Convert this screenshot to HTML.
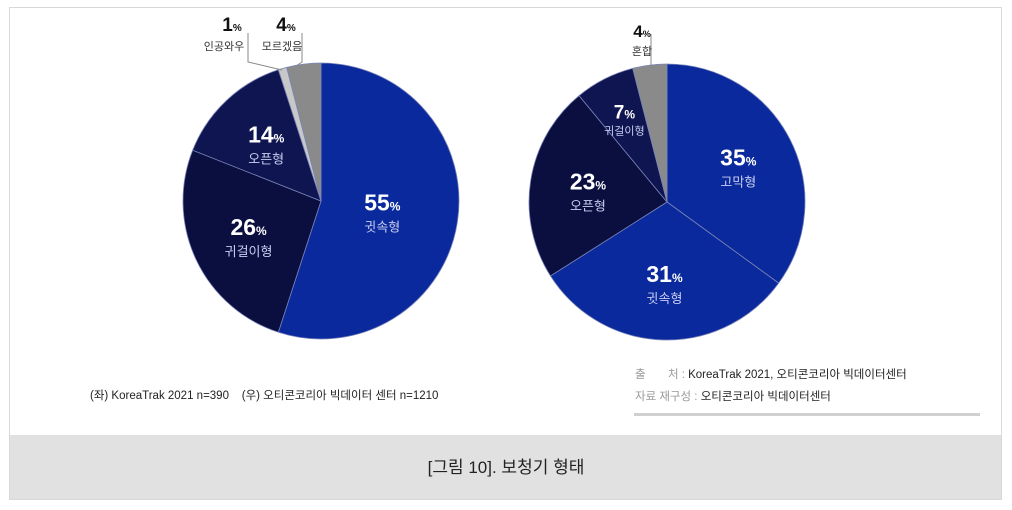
<!DOCTYPE html>
<html><head><meta charset="utf-8"><style>
body{margin:0;background:#fff;}
svg{display:block;font-family:"Liberation Sans","Noto Sans CJK KR",sans-serif;}
</style></head><body>
<svg width="1012" height="510" viewBox="0 0 1012 510" xmlns="http://www.w3.org/2000/svg">
<rect x="9.5" y="7.5" width="992" height="492" fill="#fff" stroke="#d8d8d8"/>
<rect x="10" y="435" width="991" height="64" fill="#e1e1e1"/>
<text x="506" y="473" text-anchor="middle" font-size="17" fill="#222">[그림 10]. 보청기 형태</text>
<g id="pies"></g>
<g fill="none" stroke="#888" stroke-width="1">
<path d="M248 33 V62 L282 70"/><path d="M302 33 V62 L296 66"/>
<path d="M651 34 V68"/>
</g>
<g text-anchor="middle">
<text x="232" y="31" font-size="19" font-weight="bold" fill="#111">1<tspan font-size="10">%</tspan></text>
<text x="224" y="50" font-size="11" fill="#333">인공와우</text>
<text x="286" y="31" font-size="19" font-weight="bold" fill="#111">4<tspan font-size="10">%</tspan></text>
<text x="282" y="50" font-size="11" fill="#333">모르겠음</text>
<text x="642" y="37" font-size="17" font-weight="bold" fill="#111">4<tspan font-size="9">%</tspan></text>
<text x="642" y="55" font-size="11" fill="#333">혼합</text>
</g>
<text x="90" y="399" font-size="11.5" fill="#222">(좌) KoreaTrak 2021 n=390 &#160;&#160;&#160;(우) 오티콘코리아 빅데이터 센터 n=1210</text>
<text x="635" y="378" font-size="11.5" fill="#222"><tspan fill="#999">출&#160;&#160;&#160;&#160;&#160;&#160;&#160;처 :</tspan> KoreaTrak 2021, 오티콘코리아 빅데이터센터</text>
<text x="635" y="400" font-size="11.5" fill="#222"><tspan fill="#999">자료 재구성 :</tspan> 오티콘코리아 빅데이터센터</text>
<rect x="634" y="413" width="346" height="3" fill="#d0d0d0"/>
</svg>
<script>
const leftCats=["귓속형","귀걸이형","오픈형","인공와우","모르겠음"];
const leftVals=[55,26,14,1,4];
const rightCats=["고막형","귓속형","오픈형","귀걸이형","혼합"];
const rightVals=[35,31,23,7,4];
const leftColors=["#0a299c","#0b0f40","#0e1550","#c8c8c8","#8a8a8a"];
const rightColors=["#0a299c","#0a299c","#0b0f40","#0e1550","#8a8a8a"];
const leftShowLabel=[true,true,true,false,false];
const rightShowLabel=[true,true,true,true,false];
const NS="http://www.w3.org/2000/svg";
const g=document.getElementById('pies');
function pt(cx,cy,r,f){const a=f*2*Math.PI;return [cx+r*Math.sin(a),cy-r*Math.cos(a)];}
function pie(name,cx,cy,r,cats,vals,cols,show){
  const tot=vals.reduce((a,b)=>a+b,0);let acc=0;
  vals.forEach((v,i)=>{
    const f0=acc/tot,f1=(acc+v)/tot;acc+=v;
    const p0=pt(cx,cy,r,f0),p1=pt(cx,cy,r,f1);
    const large=(f1-f0)>0.5?1:0;
    const p=document.createElementNS(NS,'path');
    p.setAttribute('d',`M${cx},${cy} L${p0[0]},${p0[1]} A${r},${r} 0 ${large} 1 ${p1[0]},${p1[1]} Z`);
    p.setAttribute('fill',cols[i]);p.setAttribute('stroke','#7a84b8');p.setAttribute('stroke-width','0.8');
    
    
    g.appendChild(p);
    if(show[i]){
      const small=v<10;
      const rr=small?r*0.68:(v>50?r*0.45:r*0.58);
      const c=pt(cx,cy,rr,(f0+f1)/2);
      const t=document.createElementNS(NS,'text');
      t.setAttribute('x',c[0]);t.setAttribute('y',c[1]);
      t.setAttribute('text-anchor','middle');t.setAttribute('fill','#fff');
      t.setAttribute('font-size',small?'19':'23');t.setAttribute('font-weight','bold');
      t.innerHTML=v+'<tspan font-size="12">%</tspan>';
      
      
      g.appendChild(t);
      const l=document.createElementNS(NS,'text');
      l.setAttribute('x',c[0]);l.setAttribute('y',c[1]+(small?16:21));
      l.setAttribute('text-anchor','middle');l.setAttribute('fill','#c8cdf0');
      l.setAttribute('font-size',small?'11':'13');
      l.textContent=cats[i];
      
      
      g.appendChild(l);
    }
  });
}
pie('left-pie',321,201,138,leftCats,leftVals,leftColors,leftShowLabel);
pie('right-pie',667,202,138,rightCats,rightVals,rightColors,rightShowLabel);
</script>
</body></html>
